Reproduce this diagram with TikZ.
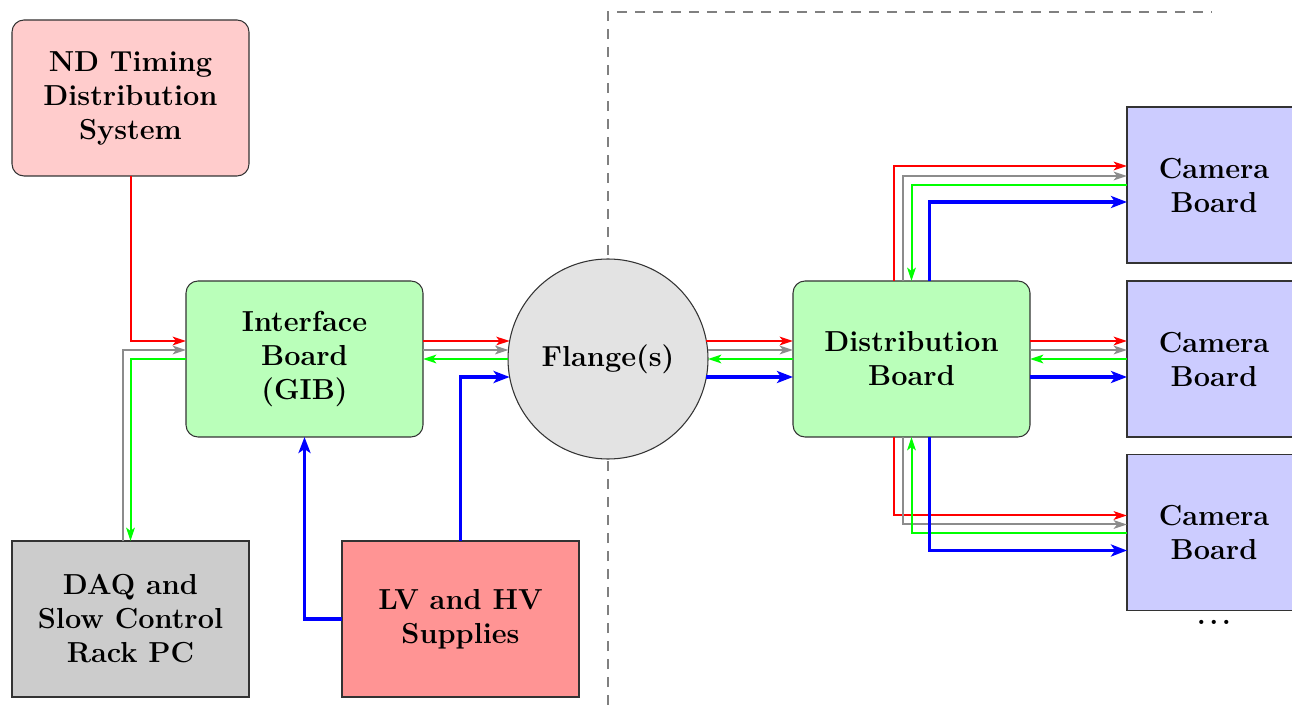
\documentclass[tikz,border=0pt]{standalone}
\usetikzlibrary{arrows.meta,calc}
\begin{document}
\begin{tikzpicture}[x=0.75pt,y=-0.75pt,
  every node/.style={font=\fontsize{21.7}{25.5}\selectfont\bfseries, align=center, inner sep=0pt, outer sep=0pt},
  blk/.style={draw=black!80, line width=0.8pt, minimum width=177.75pt, minimum height=117pt},
  rbox/.style={blk, rounded corners=9pt},
  cambox/.style={blk, fill=blue!20, minimum width=130.5pt},
  sig/.style={line width=1.5pt, -{Stealth[length=10pt,width=6.5pt,inset=2.5pt]}},
  pwr/.style={line width=2.8pt, blue, -{Stealth[length=12pt,width=9pt,inset=3pt]}},
  sep/.style={draw=black!50, line width=1.2pt, dash pattern=on 7.5pt off 6pt}
]
\useasboundingbox (0,0) rectangle (1292,705);
\clip (0,0) rectangle (1292,705);

\coordinate (dtop) at (608,12);
\coordinate (dbot) at (608,705);
\coordinate (dend) at (1212,12);
\draw[sep] (dbot) -- (dtop) -- (dend);

\node[rbox, fill=red!20] (nd) at (130.5,98) {ND Timing\\Distribution\\System};
\node[rbox, fill=green!27] (gib) at (304.5,359) {Interface\\Board\\(GIB)};
\node[blk, fill=black!20] (daq) at (130.5,619) {DAQ and\\Slow Control\\Rack PC};
\node[blk, fill=red!42] (lv) at (460.5,619) {LV and HV\\Supplies};
\node[circle, draw=black!80, line width=0.8pt, fill=black!11, minimum size=150pt] (fl) at (608,359) {Flange(s)};
\node[rbox, fill=green!27] (dist) at (911.5,359) {Distribution\\Board};
\node[cambox] (cam1) at (1214,185) {Camera\\Board};
\node[cambox] (cam2) at (1214,359) {Camera\\Board};
\node[cambox] (cam3) at (1214,532.5) {Camera\\Board};
\node (dots) at (1214,622) {.\kern2.6pt.\kern2.6pt.};

% left side
\draw[sig, red] (nd.south) |- ($(gib.west)+(0,-18)$);
\draw[sig, black!45] ($(daq.north)+(-8,0)$) |- ($(gib.west)+(0,-9)$);
\draw[sig, green] (gib.west) -| (daq.north);

% GIB <-> flange
\draw[sig, red] ($(gib.east)+(0,-18)$) -- ($(fl.center)+(-98.4,-18)$);
\draw[sig, black!45] ($(gib.east)+(0,-9)$) -- ($(fl.center)+(-99.6,-9)$);
\draw[sig, green] (fl.west) -- (gib.east);
\draw[pwr] (lv.north) |- ($(fl.center)+(-98.4,18)$);
\draw[pwr] (lv.west) -| (gib.south);

% flange <-> distribution
\draw[sig, red] ($(fl.center)+(98.4,-18)$) -- ($(dist.west)+(0,-18)$);
\draw[sig, black!45] ($(fl.center)+(99.6,-9)$) -- ($(dist.west)+(0,-9)$);
\draw[sig, green] (dist.west) -- (fl.east);
\draw[pwr] ($(fl.center)+(98.4,18)$) -- ($(dist.west)+(0,18)$);

% distribution -> camera 2
\draw[sig, red] ($(dist.east)+(0,-18)$) -- ($(cam2.west)+(0,-18)$);
\draw[sig, black!45] ($(dist.east)+(0,-9)$) -- ($(cam2.west)+(0,-9)$);
\draw[sig, green] (cam2.west) -- (dist.east);
\draw[pwr] ($(dist.east)+(0,18)$) -- ($(cam2.west)+(0,18)$);

% distribution -> camera 1
\draw[sig, red] ($(dist.north)+(-18,0)$) |- ($(cam1.west)+(0,-19)$);
\draw[sig, black!45] ($(dist.north)+(-9,0)$) |- ($(cam1.west)+(0,-9)$);
\draw[sig, green] (cam1.west) -| (dist.north);
\draw[pwr] ($(dist.north)+(18,0)$) |- ($(cam1.west)+(0,17)$);

% distribution -> camera 3
\draw[sig, red] ($(dist.south)+(-18,0)$) |- ($(cam3.west)+(0,-17)$);
\draw[sig, black!45] ($(dist.south)+(-9,0)$) |- ($(cam3.west)+(0,-8)$);
\draw[sig, green] (cam3.west) -| (dist.south);
\draw[pwr] ($(dist.south)+(18,0)$) |- ($(cam3.west)+(0,18)$);
\end{tikzpicture}
\end{document}
